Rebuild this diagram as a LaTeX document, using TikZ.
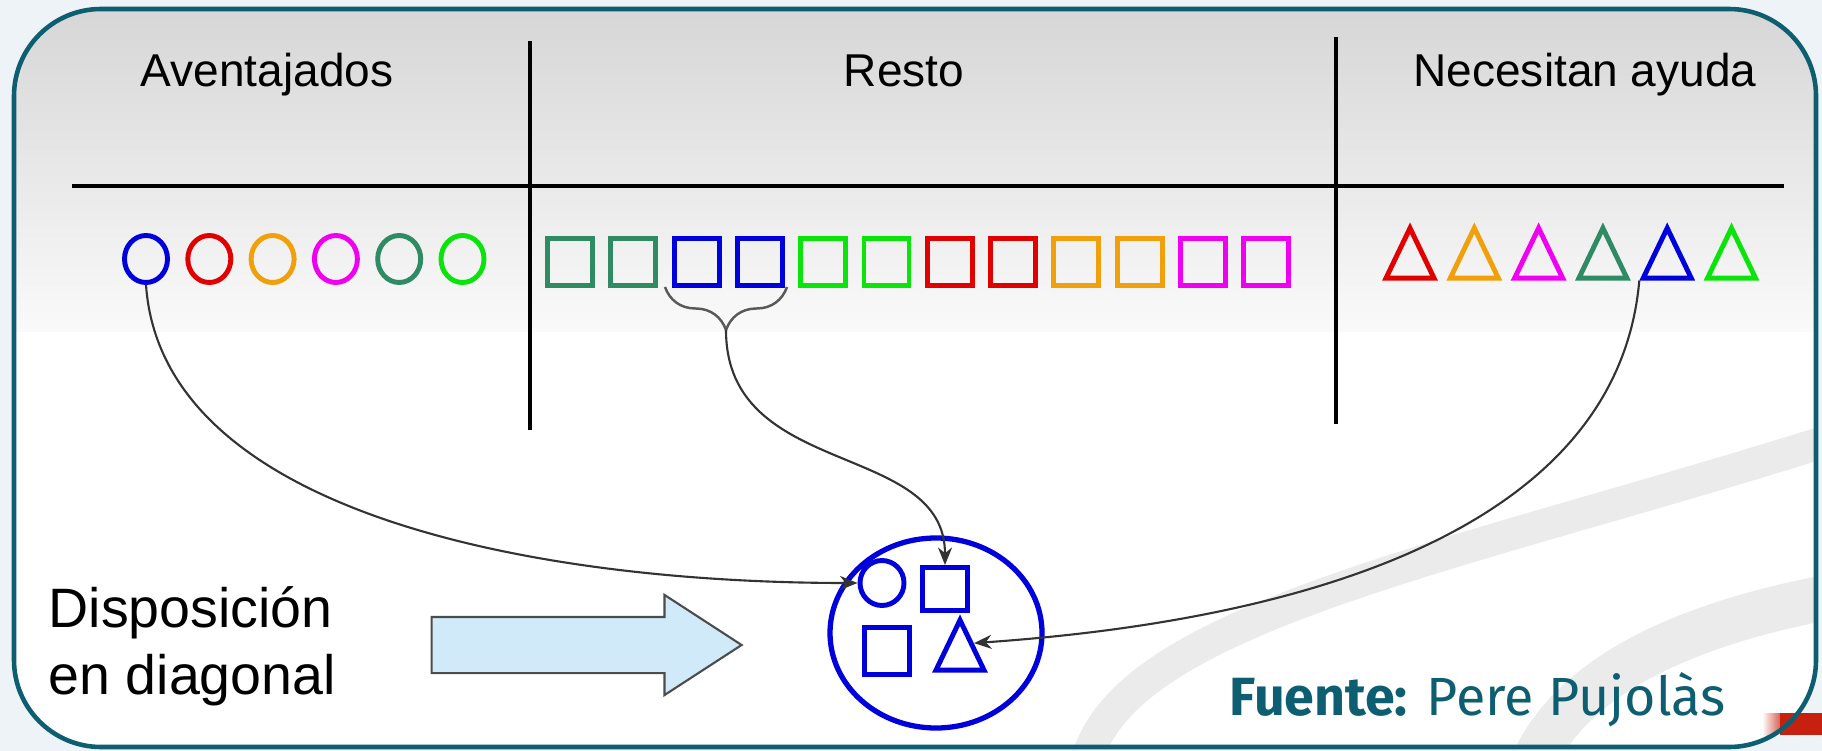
\documentclass[tikz,border=0pt]{standalone}
\usepackage{fontspec}
\setmainfont{Liberation Sans}
\newfontfamily\srcfont{Fira Sans}
\usetikzlibrary{shapes.geometric, shapes.arrows, arrows.meta, decorations.pathreplacing, positioning}
\definecolor{frameteal}{RGB}{14,94,114}
\definecolor{pageblue}{RGB}{238,243,248}
\definecolor{kblue}{RGB}{0,0,220}
\definecolor{kred}{RGB}{225,0,0}
\definecolor{korange}{RGB}{240,160,10}
\definecolor{kmagenta}{RGB}{240,0,240}
\definecolor{kdkgreen}{RGB}{46,139,100}
\definecolor{kgreen}{RGB}{10,228,10}
\definecolor{arrowfill}{RGB}{208,234,250}
\definecolor{logored}{RGB}{200,32,14}
\tikzstyle{shapering} = [ellipse, draw, line width=1.4pt,
minimum width=0.43cm,
minimum height=0.47cm,
inner sep=0pt]
\tikzstyle{shapebox} = [rectangle, draw, line width=1.4pt,
minimum width=0.45cm,
minimum height=0.47cm,
inner sep=0pt]
\tikzstyle{shapetri} = [isosceles triangle, isosceles triangle stretches,
shape border rotate=90, draw, line width=1.4pt,
minimum width=0.48cm,
minimum height=0.50cm,
inner sep=0pt]
\tikzstyle{colhead} = [font=\fontsize{13.1}{15.7}\selectfont, anchor=base]
\tikzstyle{tablerule} = [line width=1.4pt]
\tikzstyle{linkarrow} = [line width=0.6pt, draw=black!80, -{Stealth[length=5pt,width=4pt]}]

\begin{document}
\begin{tikzpicture}[node distance=0.633cm]
\useasboundingbox (0,0) rectangle (18.22,-7.51);
\fill[pageblue] (0,0) rectangle (18.22,-7.51);
\fill[white, rounded corners=0.87cm] (0.14,-0.09) rectangle (18.16,-7.47);
\begin{scope}
\clip[rounded corners=0.87cm] (0.14,-0.09) rectangle (18.16,-7.47);
\shade[top color=black!16, bottom color=black!2] (0,-0.09) rectangle (18.22,-3.32);
% background swooshes
\draw[line width=0.32cm, black!8] (10.85,-7.7) .. controls (11.1,-6.2) and (14.5,-5.6) .. (18.3,-4.4);
\draw[line width=0.45cm, black!8] (15.3,-7.7) .. controls (15.7,-6.7) and (17.0,-6.2) .. (18.4,-5.95);
\shade[left color=white, right color=logored!70] (17.62,-7.13) rectangle (17.80,-7.35);
\end{scope}
\fill[logored] (17.80,-7.13) rectangle (18.22,-7.35);
\draw[frameteal, line width=1.3pt, rounded corners=0.87cm] (0.14,-0.09) rectangle (18.16,-7.47);

% table
\draw[tablerule] (0.72,-1.86) -- (17.84,-1.86);
\draw[tablerule] (5.30,-0.41) -- (5.30,-4.30);
\draw[tablerule] (13.36,-0.37) -- (13.36,-4.24);
\node (hav) [colhead] at (2.67,-0.87) {Aventajados};
\node (hre) [colhead] at (9.04,-0.87) {Resto};
\node (hne) [colhead] at (15.85,-0.87) {Necesitan ayuda};

% circles
\node (o1) [shapering, draw=kblue] at (1.46,-2.59) {};
\node (o2) [shapering, draw=kred, right of=o1] {};
\node (o3) [shapering, draw=korange, right of=o2] {};
\node (o4) [shapering, draw=kmagenta, right of=o3] {};
\node (o5) [shapering, draw=kdkgreen, right of=o4] {};
\node (o6) [shapering, draw=kgreen, right of=o5] {};

% squares
\node (s1) [shapebox, draw=kdkgreen] at (5.70,-2.62) {};
\node (s2) [shapebox, draw=kdkgreen, right of=s1] {};
\node (s3) [shapebox, draw=kblue, right of=s2] {};
\node (s4) [shapebox, draw=kblue, right of=s3] {};
\node (s5) [shapebox, draw=kgreen, right of=s4] {};
\node (s6) [shapebox, draw=kgreen, right of=s5] {};
\node (s7) [shapebox, draw=kred, right of=s6] {};
\node (s8) [shapebox, draw=kred, right of=s7] {};
\node (s9) [shapebox, draw=korange, right of=s8] {};
\node (s10) [shapebox, draw=korange, right of=s9] {};
\node (s11) [shapebox, draw=kmagenta, right of=s10] {};
\node (s12) [shapebox, draw=kmagenta, right of=s11] {};

% triangles
\node (t1) [shapetri, draw=kred] at (14.10,-2.63) {};
\node (t2) [shapetri, draw=korange, right of=t1, xshift=0.01cm] {};
\node (t3) [shapetri, draw=kmagenta, right of=t2, xshift=0.01cm] {};
\node (t4) [shapetri, draw=kdkgreen, right of=t3, xshift=0.01cm] {};
\node (t5) [shapetri, draw=kblue, right of=t4, xshift=0.01cm] {};
\node (t6) [shapetri, draw=kgreen, right of=t5, xshift=0.01cm] {};

% brace under the blue pair
\draw[decorate, decoration={brace, mirror, amplitude=0.43cm}, line width=0.7pt, draw=black!65] (6.65,-2.87) -- (7.87,-2.87);
\coordinate (bt) at (7.26,-3.30);

% diagonal group
\node (grp) [ellipse, draw=kblue, line width=1.5pt, minimum width=2.12cm, minimum height=1.90cm] at (9.36,-6.33) {};
\node (gc) [shapering, draw=kblue, minimum width=0.44cm, minimum height=0.45cm] at (8.82,-5.83) {};
\node (gs1) [shapebox, draw=kblue, minimum height=0.43cm] at (9.45,-5.89) {};
\node (gs2) [shapebox, draw=kblue] at (8.87,-6.51) {};
\node (gt) [shapetri, draw=kblue] at (9.60,-6.55) {};

\draw[linkarrow] (o1.south) .. controls +(-86:2.3) and +(180:3.2) .. (gc.west);
\draw[linkarrow] (bt) .. controls +(-90:1.5) and +(90:1.25) .. (gs1.north);
\draw[linkarrow] (t5.left corner) .. controls +(-95:2.9) and +(4:2.24) .. (gt.right side);

% left label and block arrow
\node (disp) [anchor=base west, align=left, inner sep=0pt, font=\fontsize{15.8}{19}\selectfont] at (0.48,-6.94) {Disposición\\en diagonal};
\node (barrow) [single arrow, draw=black!70, fill=arrowfill, line width=0.6pt,
minimum height=3.10cm, minimum width=0.98cm,
single arrow head extend=0.22cm, single arrow tip angle=66,
inner xsep=0pt, inner ysep=0.27cm] at (5.65,-6.45) {};

\node (src) [anchor=base west, inner sep=0pt, text=frameteal, font=\srcfont\fontsize{15.3}{18}\selectfont] at (12.29,-7.15) {\textbf{Fuente:} Pere Pujolàs};
\end{tikzpicture}
\end{document}
